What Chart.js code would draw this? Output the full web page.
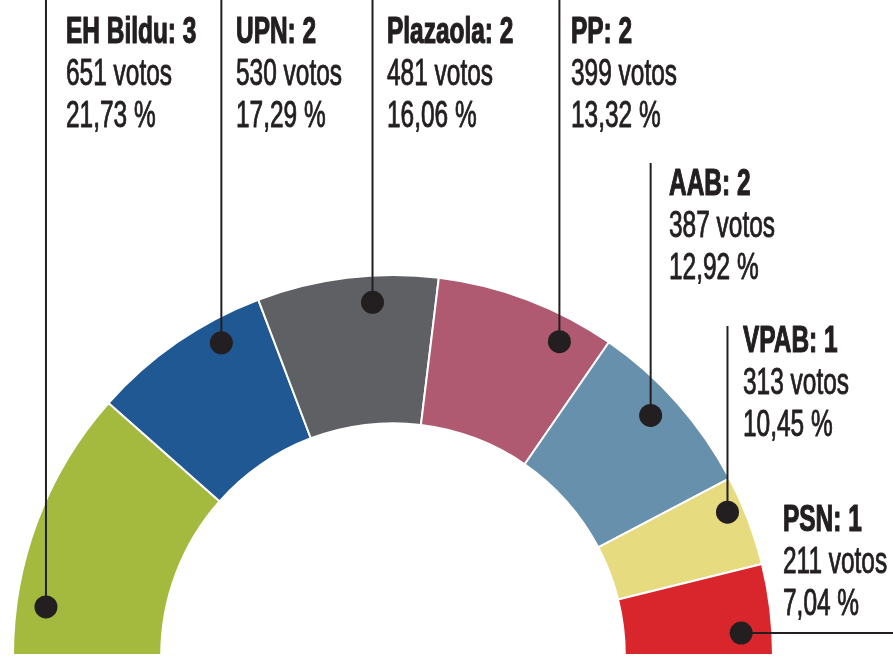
<!DOCTYPE html>
<html>
<head>
<meta charset="utf-8">
<script src="https://cdn.jsdelivr.net/npm/chart.js@4/dist/chart.umd.min.js"></script>
<style>
html,body{margin:0;padding:0;background:#fff;}
#wrap{width:893px;height:657px;position:relative;}
</style>
</head>
<body>
<div id="wrap"><canvas id="c" width="893" height="657"></canvas></div>
<script>
// ---- data ----
const parties = ['EH Bildu', 'UPN', 'Plazaola', 'PP', 'AAB', 'VPAB', 'PSN'];
const seats = [3, 2, 2, 2, 2, 1, 1];
const votes = [651, 530, 481, 399, 387, 313, 211];
const percents = [21.73, 17.29, 16.06, 13.32, 12.92, 10.45, 7.04];

// ---- styles / layout ----
const colors = ['#a3ba3f', '#1f5892', '#5e6064', '#b05a72', '#6790ad', '#e7db80', '#d9262c'];
const dotAngleFrac = [0.19, 0.71, 0.63, 0.76, 0.45, 0.33, 0.74];
const dotRadiusFrac = [0.80, 0.84, 0.82, 0.83, 0.81, 0.89, 0.79];
const labelX = [66, 236, 387, 571, 669, 743, 783];
const labelBaseline = [43, 43, 43, 43, 195, 352, 531];
const lineTop = [0, 0, 0, 0, 163, 326, null]; // null => horizontal leader to the right
const lineGap = 42;
const ink = '#231f20';

function pickFont(ctx) {
  ctx.font = '36px "Liberation Sans Narrow"';
  const n = ctx.measureText('651 votos').width;
  ctx.font = '36px "Liberation Sans"';
  const r = ctx.measureText('651 votos').width;
  if (n < r * 0.9) return {family: '"Liberation Sans Narrow"', scale: 106 / n};
  return {family: '"Liberation Sans"', scale: 106 / r};
}

const labelPlugin = {
  id: 'seatLabels',
  afterDatasetsDraw(chart) {
    const ctx = chart.ctx;
    const meta = chart.getDatasetMeta(0);
    const f = pickFont(ctx);
    meta.data.forEach((arc, i) => {
      const p = arc.getProps(['x', 'y', 'startAngle', 'endAngle', 'innerRadius', 'outerRadius'], true);
      const a = p.startAngle + (p.endAngle - p.startAngle) * dotAngleFrac[i];
      const r = p.innerRadius + (p.outerRadius - p.innerRadius) * dotRadiusFrac[i];
      const dx = p.x + Math.cos(a) * r;
      const dy = p.y + Math.sin(a) * r;
      ctx.save();
      ctx.strokeStyle = ink;
      ctx.lineWidth = 2;
      ctx.beginPath();
      if (lineTop[i] === null) {
        ctx.moveTo(dx, dy);
        ctx.lineTo(chart.width, dy);
      } else {
        ctx.moveTo(dx, dy);
        ctx.lineTo(dx, lineTop[i]);
      }
      ctx.stroke();
      ctx.fillStyle = ink;
      ctx.beginPath();
      ctx.arc(dx, dy, 11.5, 0, Math.PI * 2);
      ctx.fill();
      // text
      const lines = [
        {t: parties[i] + ': ' + seats[i], bold: true},
        {t: votes[i] + ' votos', bold: false},
        {t: percents[i].toFixed(2).replace('.', ',') + ' %', bold: false}
      ];
      ctx.textBaseline = 'alphabetic';
      ctx.textAlign = 'left';
      lines.forEach((ln, k) => {
        ctx.save();
        ctx.font = (ln.bold ? 'bold ' : '') + '36px ' + f.family;
        ctx.translate(labelX[i], labelBaseline[i] + k * lineGap);
        ctx.scale(f.scale, 1);
        ctx.fillText(ln.t, 0, 0);
        ctx.lineWidth = ln.bold ? 1.2 : 0.9;
        ctx.lineJoin = 'round';
        ctx.strokeText(ln.t, 0, 0);
        ctx.restore();
      });
      ctx.restore();
    });
  }
};

new Chart(document.getElementById('c'), {
  type: 'doughnut',
  data: {
    labels: parties,
    datasets: [{
      data: seats,
      backgroundColor: colors,
      borderColor: '#ffffff',
      borderWidth: 2,
      hoverOffset: 0
    }]
  },
  options: {
    responsive: false,
    animation: false,
    rotation: -90,
    circumference: 180,
    cutout: '61%',
    layout: {padding: {left: 12, right: 119, top: 274, bottom: 1}},
    plugins: {legend: {display: false}, tooltip: {enabled: false}},
    events: []
  },
  plugins: [labelPlugin]
});
</script>
</body>
</html>
